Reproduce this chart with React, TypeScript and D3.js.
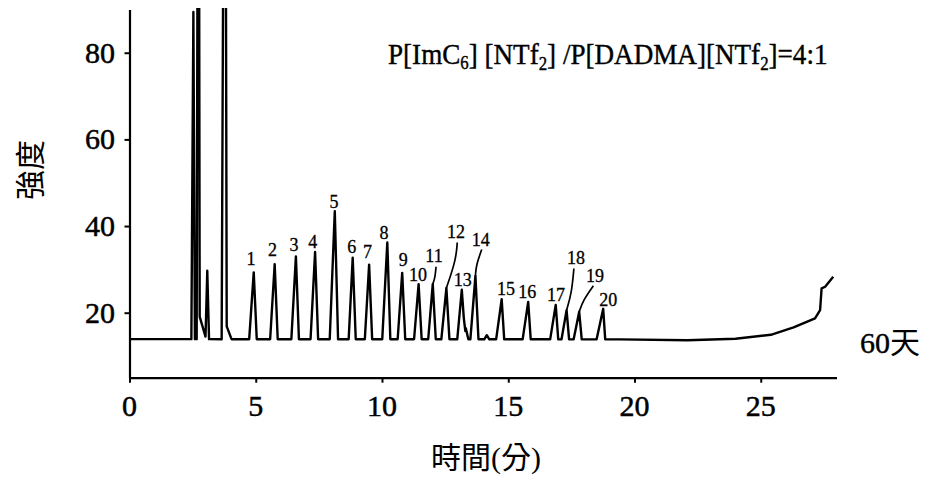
import React, { useEffect, useRef } from 'react';
import * as d3 from 'd3';

const WIDTH = 927;
const HEIGHT = 479;

// Numbered analyte peaks: retention time (min) and apex intensity
const peakNumbers = [1, 2, 3, 4, 5, 6, 7, 8, 9, 10, 11, 12, 13, 14, 15, 16, 17, 18, 19, 20];
const peakTimes = [4.92, 5.75, 6.59, 7.35, 8.13, 8.84, 9.49, 10.21, 10.8, 11.45, 12.01, 12.55, 13.16, 13.7, 14.74, 15.79, 16.88, 17.31, 17.81, 18.76];
const peakHeights = [29.3, 31.2, 33.0, 34.0, 43.4, 32.7, 31.1, 36.2, 29.2, 26.6, 26.6, 25.7, 25.3, 28.5, 23.1, 22.5, 21.8, 20.6, 20.2, 20.9];
// leading / trailing edge duration of each peak (min)
const peakRise = [0.18, 0.18, 0.18, 0.18, 0.2, 0.16, 0.17, 0.2, 0.18, 0.18, 0.18, 0.2, 0.18, 0.2, 0.22, 0.22, 0.22, 0.2, 0.22, 0.26];
const peakFall = [0.12, 0.12, 0.12, 0.12, 0.13, 0.12, 0.12, 0.12, 0.12, 0.12, 0.12, 0.12, 0.14, 0.12, 0.1, 0.1, 0.1, 0.1, 0.1, 0.08];

// Solvent front and unnumbered features
const minorTimes = [2.53, 2.73, 2.76, 3.08, 3.78, 3.84, 13.32, 14.15];
const minorHeights = [89.4, 200, 19.5, 29.7, 200, 17.0, 16.4, 14.8];
const minorRise = [0.08, 0.07, 0.04, 0.07, 0.13, 0.03, 0.08, 0.1];
const minorFall = [0.06, 0.05, 0.28, 0.07, 0.07, 0.2, 0.1, 0.1];

// Baseline, including the late gradient drift
const baselineTimes = [0, 19.4, 22.1, 24.0, 25.4, 26.3, 27.15, 27.35, 27.41, 27.55, 27.87];
const baselineValues = [13.9, 13.85, 13.65, 14.0, 14.9, 16.6, 18.7, 20.6, 25.6, 26.0, 28.3];

// Peak number labels (time, intensity of text baseline)
const labelTimes = [4.81, 5.66, 6.51, 7.26, 8.1, 8.8, 9.43, 10.08, 10.84, 11.43, 12.06, 12.93, 13.2, 13.91, 14.91, 15.75, 16.89, 17.68, 18.44, 18.96];
const labelValues = [31.0, 33.2, 34.2, 35.0, 44.2, 33.8, 32.7, 37.1, 30.8, 27.3, 31.7, 37.3, 26.2, 35.5, 24.2, 23.5, 22.7, 31.2, 27.1, 21.5];

// Leader lines from crowded peaks up to their labels
const leaderPeaks = [11, 12, 14, 18, 19];
const leaderPoints: [number, number][][] = [
  [[12.1, 28.0], [12.14, 30.6]],
  [[12.93, 32.2], [12.98, 36.2]],
  [[13.73, 31.0], [13.95, 34.6]],
  [[17.51, 24.5], [17.6, 30.2]],
  [[17.97, 22.9], [18.37, 26.2]],
];

const xTicks = [0, 5, 10, 15, 20, 25];
const yTicks = [20, 40, 60, 80];

const SERIF = "'Liberation Serif', 'Times New Roman', serif";
const CJK = "'Noto Sans CJK TC', 'Noto Sans CJK SC', sans-serif";

const x = d3.scaleLinear().domain([0, 28]).range([129.5, 836.5]);
const y = d3.scaleLinear().domain([5, 90]).range([377.7, 9.4]);

const baseline = d3.scaleLinear().domain(baselineTimes).range(baselineValues).clamp(true);

type Peak = { t: number; h: number; rise: number; fall: number };
const allPeaks: Peak[] = [
  ...peakTimes.map((t, i) => ({ t, h: peakHeights[i], rise: peakRise[i], fall: peakFall[i] })),
  ...minorTimes.map((t, i) => ({ t, h: minorHeights[i], rise: minorRise[i], fall: minorFall[i] })),
];

// Detector signal: baseline plus the contribution of every peak
function signal(t: number): number {
  let v = baseline(t);
  for (const p of allPeaks) {
    const amp = p.h - baseline(p.t);
    if (t > p.t - p.rise && t <= p.t) v += amp * (1 - (p.t - t) / p.rise);
    else if (t > p.t && t < p.t + p.fall) v += amp * (1 - (t - p.t) / p.fall);
  }
  return v;
}

const tEnd = baselineTimes[baselineTimes.length - 1];
const breaks = Array.from(
  new Set([
    ...baselineTimes,
    ...allPeaks.flatMap((p) => [p.t - p.rise, p.t, p.t + p.fall]),
  ])
)
  .filter((t) => t >= 0 && t <= tEnd)
  .sort((a, b) => a - b);
const trace: [number, number][] = breaks.map((t) => [t, signal(t)]);

const TICK = 5;

export default function App() {
  const xRef = useRef<SVGGElement>(null);
  const yRef = useRef<SVGGElement>(null);

  useEffect(() => {
    const style = (g: d3.Selection<SVGGElement, unknown, null, undefined>) => {
      g.select('.domain').attr('stroke', '#000').attr('stroke-width', 2.2);
      g.selectAll('.tick line').attr('stroke', '#000').attr('stroke-width', 2);
      g.selectAll('.tick text').remove();
    };
    const gx = d3.select(xRef.current!);
    gx.call(d3.axisBottom(x).tickValues(xTicks).tickSize(TICK).tickSizeOuter(0));
    style(gx);
    const gy = d3.select(yRef.current!);
    gy.call(d3.axisLeft(y).tickValues(yTicks).tickSize(TICK).tickSizeOuter(0));
    style(gy);
  }, []);

  const line = d3
    .line<[number, number]>()
    .x((d) => x(d[0]))
    .y((d) => y(d[1]));

  const leaderLine = d3
    .line<[number, number]>()
    .x((d) => x(d[0]))
    .y((d) => y(d[1]))
    .curve(d3.curveBasis);

  const fmt = d3.format('d');

  return (
    <div style={{ position: 'absolute', left: 0, top: 0 }}>
      <svg width={WIDTH} height={HEIGHT} style={{ display: 'block', background: '#fff' }}>
        <defs>
          <clipPath id="plot-clip">
            <rect x={x(0)} y={8} width={x(28) - x(0)} height={y(5) - 8} />
          </clipPath>
        </defs>

        <g clipPath="url(#plot-clip)">
          <path d={line(trace) ?? ''} fill="none" stroke="#000" strokeWidth={2.4} strokeLinejoin="round" />
          {leaderPeaks.map((n, i) => {
            const k = peakNumbers.indexOf(n);
            const pts: [number, number][] = [[peakTimes[k], peakHeights[k]], ...leaderPoints[i]];
            return <path key={n} d={leaderLine(pts) ?? ''} fill="none" stroke="#000" strokeWidth={1.7} />;
          })}
        </g>

        <g ref={xRef} transform={`translate(0,${y(5)})`} />
        <g ref={yRef} transform={`translate(${x(0)},0)`} />

        {/* tick labels */}
        <g fontFamily={SERIF} fontSize={30} fill="#000" stroke="#000" strokeWidth={0.5}>
          {xTicks.map((t) => (
            <text key={`x${t}`} x={x(t)} y={y(5) + 38.5} textAnchor="middle">
              {fmt(t)}
            </text>
          ))}
          {yTicks.map((v) => (
            <text key={`y${v}`} x={x(0) - TICK - 9.5} y={y(v) + 10} textAnchor="end">
              {fmt(v)}
            </text>
          ))}
        </g>

        {peakNumbers.map((n, i) => (
          <text
            key={n}
            x={x(labelTimes[i])}
            y={y(labelValues[i])}
            textAnchor="middle"
            fontFamily={SERIF}
            fontSize={18}
            fill="#000"
            stroke="#000"
            strokeWidth={0.3}
          >
            {n}
          </text>
        ))}

        <text
          transform="translate(388,63.5) scale(0.935,1)"
          fontFamily={SERIF}
          fontSize={29}
          fill="#000"
          stroke="#000"
          strokeWidth={0.4}
        >
          P[ImC<tspan fontSize={18} dy={5}>6</tspan>
          <tspan dy={-5}>] [NTf</tspan>
          <tspan fontSize={18} dy={6}>2</tspan>
          <tspan dy={-6}>] /P[DADMA][NTf</tspan>
          <tspan fontSize={18} dy={6}>2</tspan>
          <tspan dy={-6}>]=4:1</tspan>
        </text>

        <text x={860} y={353} fontSize={30} fill="#000">
          <tspan fontFamily={SERIF} stroke="#000" strokeWidth={0.4}>60</tspan>
          <tspan fontFamily={CJK}>天</tspan>
        </text>

        <text
          transform="translate(28,170) rotate(-90)"
          textAnchor="middle"
          dominantBaseline="central"
          fontFamily={CJK}
          fontSize={30}
          fill="#000"
        >
          強度
        </text>

        <text x={486} y={468} textAnchor="middle" fontSize={30} fill="#000">
          <tspan fontFamily={CJK}>時間</tspan>
          <tspan fontFamily={SERIF}>(</tspan>
          <tspan fontFamily={CJK}>分</tspan>
          <tspan fontFamily={SERIF}>)</tspan>
        </text>
      </svg>
    </div>
  );
}
